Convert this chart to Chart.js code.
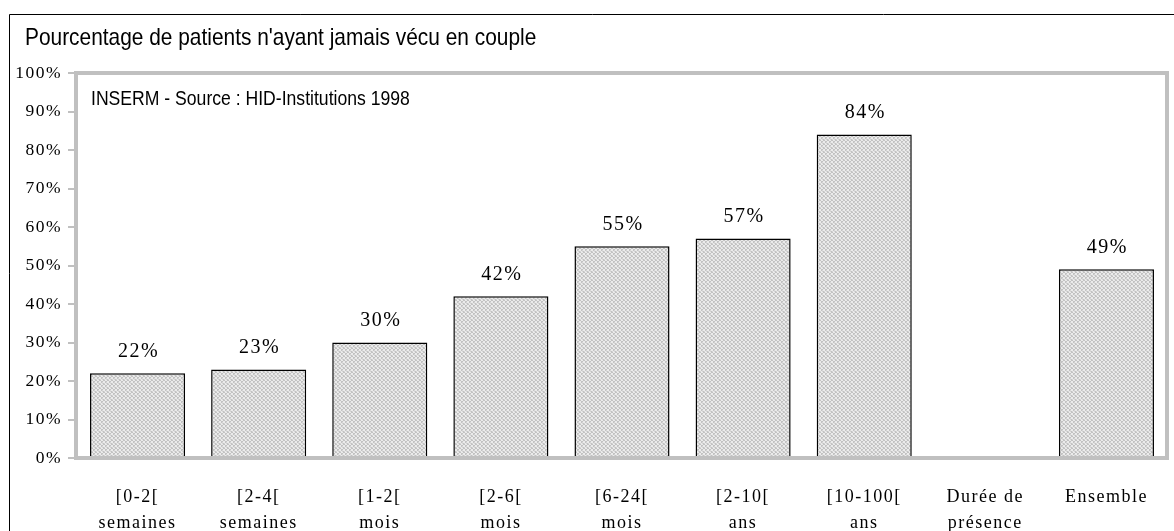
<!DOCTYPE html>
<html lang="fr">
<head>
<meta charset="utf-8">
<title>Patients n'ayant jamais vécu en couple</title>
<script src="https://cdn.jsdelivr.net/npm/chart.js@4.4.1/dist/chart.umd.min.js"></script>
<style>
  html, body { margin: 0; padding: 0; background: #fff; }
  #wrap { width: 1174px; height: 531px; }
</style>
</head>
<body>
<div id="wrap"><canvas id="chart" width="1174" height="531"></canvas></div>
<script>
// Données
const categories = [
    ['[0-2[', 'semaines'],
    ['[2-4[', 'semaines'],
    ['[1-2[', 'mois'],
    ['[2-6[', 'mois'],
    ['[6-24[', 'mois'],
    ['[2-10[', 'ans'],
    ['[10-100[', 'ans'],
    ['Durée de', 'présence'],
    ['Ensemble', '']
];
const pourcentages = [22, 23, 30, 42, 55, 57, 84, null, 49];
const yTicks = [0, 10, 20, 30, 40, 50, 60, 70, 80, 90, 100];

const titre = "Pourcentage de patients n'ayant jamais vécu en couple";
const source = 'INSERM - Source : HID-Institutions 1998';

const SERIF = "'Liberation Serif', 'Times New Roman', serif";
const SANS = "'Liberation Sans', Arial, sans-serif";
const GRIS = '#c0c0c0';

// Trame grise des barres
function makePattern() {
    const c = document.createElement('canvas');
    c.width = 4;
    c.height = 4;
    const g = c.getContext('2d');
    g.fillStyle = '#ebebeb';
    g.fillRect(0, 0, 4, 4);
    g.fillStyle = '#c2c2c2';
    [[0, 0], [2, 1], [1, 2], [3, 3], [3, 0], [1, 1]].forEach(([x, y]) => g.fillRect(x, y, 1, 1));
    g.fillStyle = '#d6d6d6';
    [[2, 3], [0, 3], [2, 2]].forEach(([x, y]) => g.fillRect(x, y, 1, 1));
    return g.createPattern(c, 'repeat');
}

// texte sans-serif étroit (compression horizontale)
function narrowText(c, txt, x, y, size, sx) {
    c.save();
    c.translate(x, y);
    c.scale(sx, 1);
    c.font = size + 'px ' + SANS;
    c.fillText(txt, 0, 0);
    c.restore();
}

const ctx = document.getElementById('chart').getContext('2d');

// Cadre, titre, source et étiquettes de valeurs
const decorPlugin = {
    id: 'decor',
    beforeDraw(chart) {
        const c = chart.ctx;
        c.letterSpacing = '1.5px';
        c.save();
        c.fillStyle = '#fff';
        c.fillRect(0, 0, chart.width, chart.height);
        c.strokeStyle = '#000';
        c.lineWidth = 1;
        c.beginPath();
        c.moveTo(9.5, chart.height + 2);
        c.lineTo(9.5, 14.5);
        c.lineTo(chart.width + 2, 14.5);
        c.stroke();

        c.letterSpacing = '0px';
        c.fillStyle = '#000';
        c.textBaseline = 'alphabetic';
        c.textAlign = 'left';
        narrowText(c, titre, 25, 45, 24, 0.87);
        c.restore();
    },
    afterDatasetsDraw(chart) {
        const c = chart.ctx;
        const a = chart.chartArea;
        c.save();
        // bordure grise de la zone de tracé
        c.strokeStyle = GRIS;
        c.lineWidth = 4;
        c.strokeRect(a.left - 1, a.top, a.right - a.left + 1, a.bottom - a.top);

        c.letterSpacing = '0px';
        c.fillStyle = '#000';
        c.textAlign = 'left';
        c.textBaseline = 'alphabetic';
        narrowText(c, source, a.left + 14, 105, 20, 0.88);

        // valeurs au-dessus des barres
        c.letterSpacing = '1.5px';
        c.font = '20px ' + SERIF;
        c.textAlign = 'center';
        c.textBaseline = 'middle';
        const meta = chart.getDatasetMeta(0);
        meta.data.forEach((bar, i) => {
            const v = pourcentages[i];
            if (v == null) return;
            c.fillText(v + '%', bar.x + 1, bar.y - 22);
        });
        c.restore();
    }
};

new Chart(ctx, {
    type: 'bar',
    data: {
        labels: categories,
        datasets: [{
            data: pourcentages,
            backgroundColor: makePattern(),
            borderColor: '#000',
            borderWidth: { top: 1.5, left: 1.5, right: 1.5, bottom: 0 },
            borderSkipped: 'bottom',
            barPercentage: 0.785,
            categoryPercentage: 1
        }]
    },
    options: {
        responsive: false,
        animation: false,
        events: [],
        layout: { padding: { top: 73, right: 7, left: 0, bottom: 0 } },
        plugins: {
            legend: { display: false },
            tooltip: { enabled: false }
        },
        scales: {
            x: {
                offset: true,
                grid: { display: false },
                border: { display: false },
                ticks: {
                    color: '#000',
                    font: { family: SERIF, size: 18, lineHeight: 1.4 },
                    padding: 19,
                    maxRotation: 0,
                    autoSkip: false
                },
                afterFit(scale) { scale.height = 73; }
            },
            y: {
                min: 0,
                max: 100,
                afterBuildTicks(scale) { scale.ticks = yTicks.map(v => ({ value: v })); },
                grid: {
                    drawOnChartArea: false,
                    color: GRIS,
                    lineWidth: 2,
                    tickLength: 9
                },
                border: { display: false },
                ticks: {
                    color: '#000',
                    font: { family: SERIF, size: 17.5 },
                    padding: 6,
                    callback: v => v + '%'
                },
                afterFit(scale) { scale.width = 77; }
            }
        }
    },
    plugins: [decorPlugin]
});
</script>
</body>
</html>
